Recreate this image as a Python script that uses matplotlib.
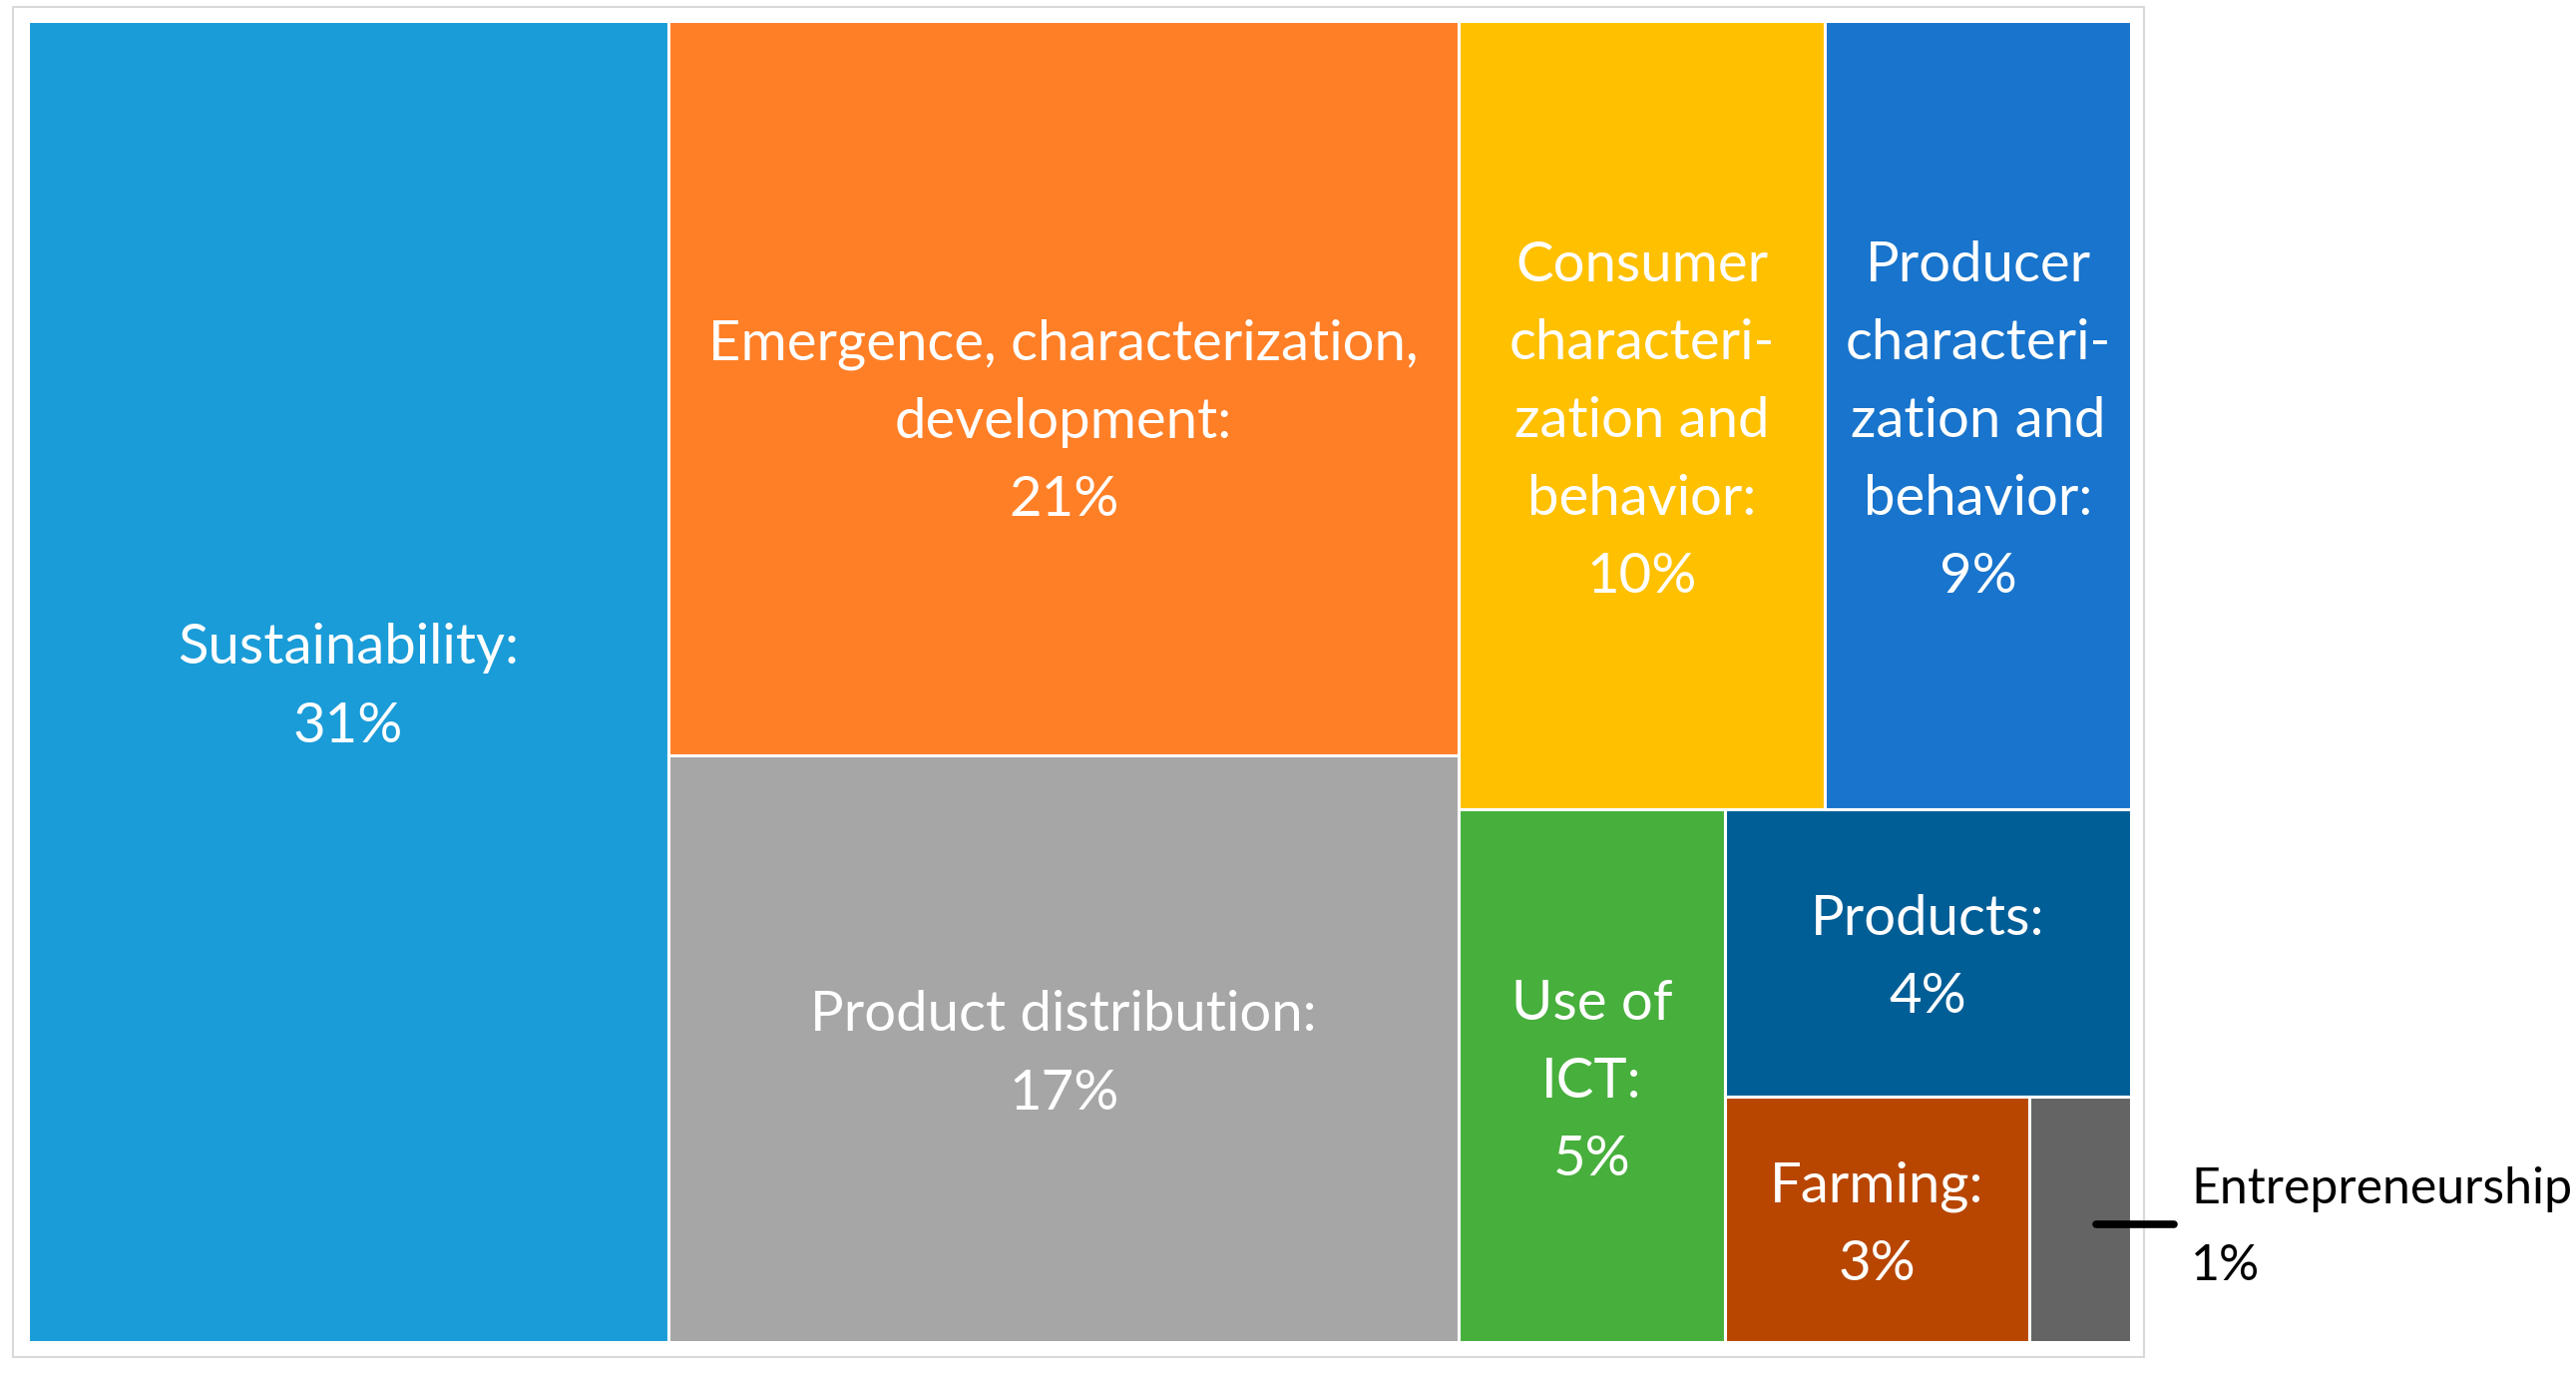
import matplotlib
matplotlib.use("Agg")
import matplotlib.pyplot as plt
from matplotlib.patches import Rectangle

# ---- data (share of area) ----
names = ["Sustainability",
         "Emergence, characterization,\ndevelopment",
         "Product distribution",
         "Consumer\ncharacteri-\nzation and\nbehavior",
         "Producer\ncharacteri-\nzation and\nbehavior",
         "Use of\nICT",
         "Products",
         "Farming",
         "Entrepreneurship"]
values = [30.5, 20.9, 16.7, 10.4, 8.7, 5.1, 4.2, 2.7, 0.9]
pct_labels = ["31%", "21%", "17%", "10%", "9%", "5%", "4%", "3%", "1%"]
colors = ["#1A9CD8", "#FF7F27", "#A6A6A6", "#FFC000", "#1874CC",
          "#47AF3C", "#005E96", "#B84600", "#646464"]

# slice-and-dice structure of the treemap ('h' = side by side, 'v' = stacked)
tree = ('h', [0,
              ('v', [1, 2]),
              ('v', [('h', [3, 4]),
                     ('h', [5, ('v', [6, ('h', [7, 8])])])])])


def total(node):
    if isinstance(node, int):
        return values[node]
    return sum(total(c) for c in node[1])


def layout(node, x, y, w, h, out):
    if isinstance(node, int):
        out[node] = (x, y, w, h)
        return
    kind, children = node
    s = total(node)
    pos = 0.0
    for c in children:
        f = total(c) / s
        if kind == 'h':
            layout(c, x + pos * w, y, f * w, h, out)
        else:
            layout(c, x, y + pos * h, w, f * h, out)
        pos += f


W, H = 2582, 1376
fig = plt.figure(figsize=(W / 100, H / 100), dpi=100)
ax = fig.add_axes([0, 0, 1, 1])
ax.set_xlim(0, W)
ax.set_ylim(H, 0)
ax.axis("off")

# outer chart frame
ax.add_patch(Rectangle((13, 7), 2136, 1353, facecolor="white",
                       edgecolor="#D9D9D9", linewidth=1.5, zorder=0))

X0, Y0, X1, Y1 = 28, 21, 2136, 1345
rects = {}
layout(tree, X0, Y0, X1 - X0, Y1 - Y0, rects)

font = "Lato"
fs = 40.5
ls = 1.66
yoff = {1: 34}
for i in range(len(values)):
    x, y, w, h = rects[i]
    ax.add_patch(Rectangle((x, y), w, h, facecolor=colors[i],
                           edgecolor="white", linewidth=2.2, zorder=1))
    if i == len(values) - 1:
        continue
    ax.text(x + w / 2, y + h / 2 + yoff.get(i, 6),
            names[i] + ":\n" + pct_labels[i],
            ha="center", va="center", color="white", fontsize=fs,
            family=font, linespacing=ls, zorder=2)

# callout for the smallest tile
x, y, w, h = rects[len(values) - 1]
ly = y + h * 0.52
ax.plot([x + w * 0.66, x + w + 43], [ly, ly], color="black",
        linewidth=5.5, solid_capstyle="round", zorder=3)
ax.text(x + w + 60, ly + 4, names[-1] + "\n" + pct_labels[-1], ha="left",
        va="center", color="black", fontsize=36, family=font,
        linespacing=1.85, zorder=3)

fig.savefig("out.png", dpi=100)
